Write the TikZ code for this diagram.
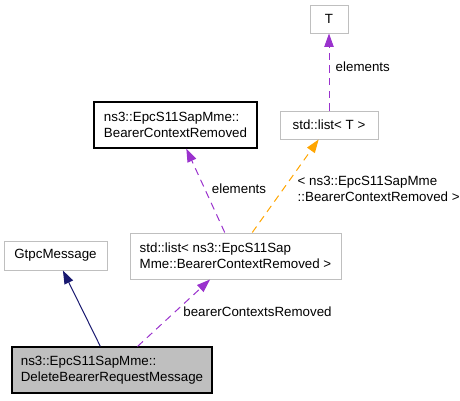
\documentclass[tikz,border=0pt]{standalone}
\usepackage{fontspec}
\setmainfont{Liberation Sans}
\usetikzlibrary{arrows.meta}
\definecolor{edgepurple}{HTML}{9A32CD}
\definecolor{edgeorange}{HTML}{FFA500}
\definecolor{edgenavy}{HTML}{191970}
\begin{document}
\begin{tikzpicture}[x=.75pt, y=-.75pt, >={Triangle[length=10pt,width=7pt]},
    font=\fontsize{10}{12}\selectfont,
    cls/.style={draw=black!25, line width=.75pt, inner sep=0pt, align=left},
    doc/.style={cls, draw=black, line width=.9pt},
    uses/.style={->, edgepurple, line width=.75pt, dash pattern=on 5.5pt off 4pt},
    tmpl/.style={->, edgeorange, line width=.75pt, dash pattern=on 5.5pt off 4pt},
    inherit/.style={->, edgenavy, line width=.75pt}]
\useasboundingbox (0,0) rectangle (460,400);
\node[cls, minimum width=28.5pt, minimum height=21pt] (t) at (329,19) {T};
\node[cls, minimum width=73.5pt, minimum height=21pt] (lt) at (329,125) {std::list< T >};
\node[doc, minimum width=122.25pt, minimum height=34.5pt] (bcr) at (175.5,125) {ns3::EpcS11SapMme::\\BearerContextRemoved};
\node[cls, minimum width=77.25pt, minimum height=21.75pt] (gtpc) at (55.5,255.5) {GtpcMessage};
\node[cls, minimum width=158.25pt, minimum height=34.5pt] (lns) at (235.5,256) {std::list< ns3::EpcS11Sap\\Mme::BearerContextRemoved >};
\node[doc, fill=black!25, minimum width=150pt, minimum height=34.5pt] (del) at (112,370) {ns3::EpcS11SapMme::\\DeleteBearerRequestMessage};
\draw[uses] (lt) -- (t);
\node[anchor=west] (lbla) at (331,67) {elements};
\draw[uses] (lns) -- (bcr);
\node (lblb) at (239,189) {elements};
\draw[tmpl] (lns) -- (lt);
\node[anchor=west, align=left] (lblc) at (293,189) {< ns3::EpcS11SapMme\\::BearerContextRemoved >};
\draw[inherit] (del) -- (gtpc);
\draw[uses] (del) -- (lns);
\node (lbld) at (257.5,312) {bearerContextsRemoved};
\end{tikzpicture}
\end{document}
